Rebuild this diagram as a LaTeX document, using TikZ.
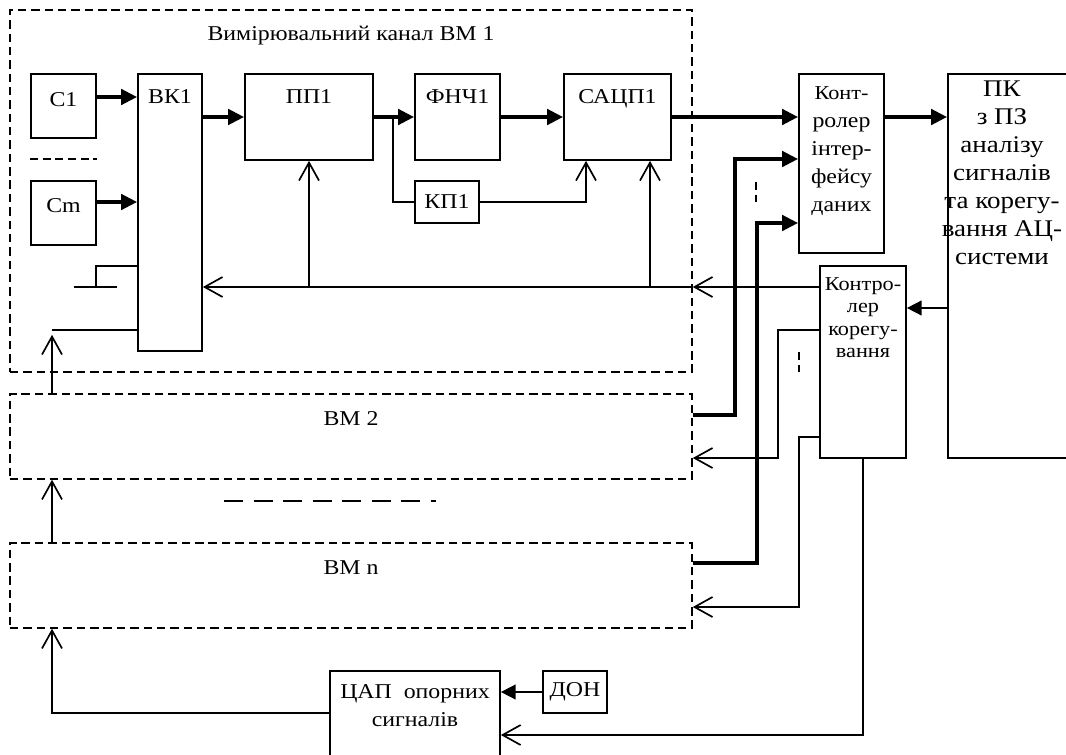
\documentclass[tikz,border=0pt]{standalone}
\usepackage{fontspec}
\setmainfont{Liberation Serif}[FakeStretch=1.13]
\usetikzlibrary{arrows.meta,positioning}

\begin{document}
\begin{tikzpicture}[x=0.025cm, y=-0.025cm,
  font=\fontsize{15}{20}\selectfont,
  blk/.style={draw, line width=1.2pt, inner sep=0pt},
  grp/.style={draw, line width=1pt, dash pattern=on 6pt off 3.5pt, inner sep=0pt, minimum width=17.05cm, minimum height=2.125cm},
  toptxt/.style={anchor=north, inner sep=0pt, align=center},
  sig/.style={line width=1.2pt},
  bus/.style={line width=2.8pt, -{Triangle[length=4mm,width=3.8mm]}},
  tri/.style={line width=1.2pt, -{Triangle[length=3.7mm,width=3.7mm]}},
  ctrl/.style={line width=1.2pt, -{Straight Barb[length=4.5mm,width=5mm]}}
]
\useasboundingbox (0,0) rectangle (1066,755);
\clip (0,0) rectangle (1066,755);

% Measurement modules
\node[grp, minimum height=9.05cm, label={[toptxt,yshift=-0.42cm]north:Вимірювальний канал ВМ 1}] (bm1) at (351,191) {};
\node[grp, label={[toptxt,yshift=-0.45cm]north:ВМ 2}] (bm2) at (351,436.5) {};
\node[grp, label={[toptxt,yshift=-0.45cm]north:ВМ n}] (bmn) at (351,585.5) {};

% Blocks of channel 1
\node[blk, minimum width=1.625cm, minimum height=1.6cm, label={[toptxt,yshift=-0.47cm]north:С1}] (c1) at (63.5,106) {};
\node[blk, minimum width=1.625cm, minimum height=1.6cm, label={[toptxt,yshift=-0.45cm]north:Cm}] (cm) at (63.5,213) {};
\node[blk, minimum width=1.6cm, minimum height=6.925cm, label={[toptxt,yshift=-0.4cm]north:ВК1}] (vk1) at (170,212.5) {};
\node[blk, minimum width=3.2cm, minimum height=2.15cm, label={[toptxt,yshift=-0.4cm]north:ПП1}] (pp1) at (309,117) {};
\node[blk, minimum width=2.125cm, minimum height=2.15cm, label={[toptxt,yshift=-0.4cm]north:ФНЧ1}] (fnch1) at (457.5,117) {};
\node[blk, minimum width=2.675cm, minimum height=2.15cm, label={[toptxt,yshift=-0.4cm]north:САЦП1}] (sacp1) at (617.5,117) {};
\node[blk, minimum width=1.6cm, minimum height=1.05cm] (kp1) at (447,202) {КП1};

% Controllers and PC
\node[blk, minimum width=2.125cm, minimum height=4.475cm, label={[toptxt,yshift=-0.32cm]north:{\fontsize{14}{18.5}\selectfont Конт-\\ролер\\\fontsize{15}{18.5}\selectfont інтер-\\фейсу\\даних}}] (ctli) at (841.5,163.5) {};
\node[blk, minimum width=3.55cm, minimum height=9.6cm, label={[toptxt,xshift=-0.425cm,yshift=-0.18cm,font=\fontsize{17}{20}\selectfont]north:{ПК\\з ПЗ\\аналізу\\сигналів\\та корегу-\\вання АЦ-\\системи}}] (pc) at (1019,266) {};
\node[blk, minimum width=2.15cm, minimum height=4.8cm, label={[toptxt,yshift=-0.3cm,font=\fontsize{14}{16}\selectfont]north:{Контро-\\лер\\корегу-\\вання}}] (ctlk) at (863,362) {};

% Reference sources
\node[blk, minimum width=4.25cm, minimum height=2.975cm, label={[toptxt,yshift=-0.35cm]north:{ЦАП\ \ опорних\\сигналів}}] (cap) at (415,730.5) {};
\node[blk, minimum width=1.6cm, minimum height=1.05cm] (don) at (575,692) {ДОН};

% Signal path of channel 1
\draw[bus] (c1.east |- 0,97) -- (vk1.west |- 0,97);
\draw[bus] (cm.east |- 0,202) -- (vk1.west |- 0,202);
\draw[sig, dash pattern=on 5.5pt off 3.5pt] (c1.west |- 0,159) -- (c1.east |- 0,159);
\draw[bus] (vk1.east |- pp1.west) -- (pp1.west);
\draw[bus] (pp1.east) -- (fnch1.west);
\draw[bus] (fnch1.east) -- (sacp1.west);
\coordinate (br) at (393,117);
\draw[sig] (br) |- (kp1.west);
\draw[ctrl] (kp1.east) -| (sacp1.south -| 586,0);
\draw[bus] (sacp1.east) -- (ctli.west |- sacp1.east);

% Ground and reference input of the switch
\coordinate (gnd) at (96,287);
\draw[sig] (vk1.west |- 0,266) -| (gnd);
\draw[sig] ([xshift=-0.55cm]gnd) -- ([xshift=0.525cm]gnd);
\coordinate (ref1) at (52,330);
\draw[sig] (vk1.west |- ref1) -- (ref1);

% Correction bus
\draw[ctrl] (ctlk.west |- 0,287) -- (bm1.east |- 0,287);
\draw[ctrl] (bm1.east |- 0,287) -- (vk1.east |- 0,287);
\draw[ctrl] (pp1.south |- 0,287) -- (pp1.south);
\draw[ctrl] (650,287) -- (sacp1.south -| 650,0);
\draw[ctrl] (ctlk.west |- 0,330) -| (778,458) -- (bm2.east |- 0,458);
\draw[ctrl] (ctlk.west |- 0,437) -| (799,607) -- (bmn.east |- 0,607);
\draw[ctrl] (ctlk.south) |- (cap.east |- 0,735);
\draw[tri] (pc.west |- 0,308) -- (ctlk.east |- 0,308);

% Data bus to the interface controller
\draw[bus] (ctli.east |- 0,117) -- (pc.west |- 0,117);
\draw[bus] (bm2.east |- 0,415) -| (735,159) -- (ctli.west |- 0,159);
\draw[bus] (bmn.east |- 0,563) -| (757,223) -- (ctli.west |- 0,223);
\draw[sig, dash pattern=on 5.5pt off 3.5pt] (756,182) -- (756,203);
\draw[sig, dash pattern=on 5.5pt off 3.5pt] (799,352) -- (799,373);

% Reference chain
\draw[ctrl] (bm2.north -| ref1) -- ([yshift=-0.12cm]ref1);
\draw[ctrl] (bmn.north -| ref1) -- (bm2.south -| ref1);
\draw[ctrl] (cap.west |- 0,713) -| (bmn.south -| ref1);
\draw[tri] (don.west) -- (cap.east |- don.west);
\draw[sig, dash pattern=on 13.5pt off 7.5pt] (224,501) -- (436,501);
\end{tikzpicture}
\end{document}
